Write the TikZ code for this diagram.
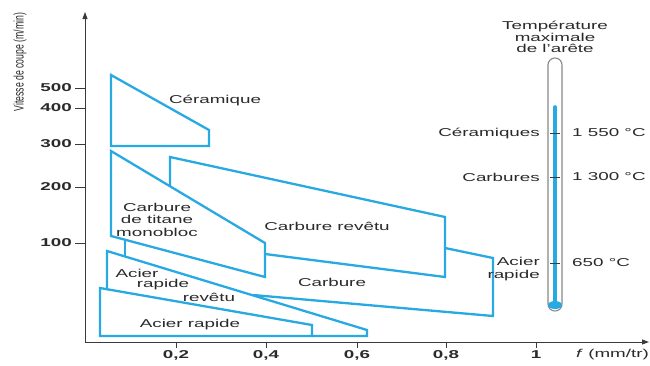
\documentclass[tikz,border=0pt]{standalone}
\usepackage{fontspec}
\setmainfont[FakeStretch=1.65]{Liberation Sans}
\newfontfamily\plainsans{Liberation Sans}
\usetikzlibrary{arrows.meta}
\definecolor{tblue}{HTML}{29A9E1}
\definecolor{txt}{HTML}{2A2A2A}
\definecolor{axisc}{HTML}{3A3A3A}
\definecolor{tubec}{HTML}{888888}
\tikzset{
  zone/.style={draw=tblue, line width=2.3pt, line join=miter},
  lbl/.style={inner sep=0pt, text=txt, font=\fontsize{11.4}{12.5}\selectfont},
  num/.style={inner sep=0pt, text=txt, font=\fontsize{11.4}{12.5}\selectfont\bfseries},
  axis/.style={draw=axisc, line width=1pt},
  tick/.style={draw=axisc, line width=0.9pt},
}
\begin{document}
\begin{tikzpicture}[x=1pt,y=-1pt]
\useasboundingbox (0,0) rectangle (650,365);
\fill[white] (0,0) rectangle (650,365);

% axes
\draw[axis, -{Triangle[length=7pt,width=5pt]}] (85,342) -- (85,12);
\draw[axis, -{Triangle[length=7pt,width=5pt]}] (85,342) -- (649,342);

% y ticks and labels
\foreach \v/\y in {500/88,400/108,300/144,200/187,100/243}{
  \draw[tick] (75,\y) -- (85,\y);
  \node[num, anchor=east] (y\v) at (72,\y) {\v};
}
% x ticks and labels
\foreach \x in {176,266,357,446,536}{
  \draw[tick] (\x,342) -- (\x,348);
}
\node[num] (x02) at (176,355) {0,2};
\node[num] (x04) at (266,355) {0,4};
\node[num] (x06) at (357,355) {0,6};
\node[num] (x08) at (446,355) {0,8};
\node[num] (x10) at (536,355) {1};
\node[lbl, anchor=west] (xlab) at (576,355) {\textit{f}\/ (mm/tr)};

\node[inner sep=0pt, text=txt, rotate=90] (ylab) at (20,62)
  {\scalebox{1}[1.6]{\plainsans\fontsize{8.7}{10}\selectfont Vitesse de coupe (m/min)}};

% zones
\draw[zone] (111,75) -- (209,130) -- (209,146) -- (111,146) -- cycle;
\draw[zone] (111,236) -- (111,151) -- (265,243) -- (265,277) -- cycle;
\draw[zone] (170,186) -- (170,157) -- (445,217) -- (445,277) -- (265,254);
\draw[zone] (125,240) -- (125,256);
\draw[zone] (253,295) -- (493,316) -- (493,258) -- (445,248);
\draw[zone] (107,290) -- (107,251) -- (367,330) -- (367,336) -- (312,336);
\draw[zone] (100,288) -- (312,325) -- (312,336) -- (100,336) -- cycle;

% zone labels
\node[lbl] (cer) at (215,100) {Céramique};
\node[lbl, align=center] (mono) at (157,219.5) {Carbure\\de titane\\monobloc};
\node[lbl] (carbrev) at (327,226) {Carbure revêtu};
\node[lbl] (carb) at (332,282) {Carbure};
\node[lbl] (arr1) at (137,273) {Acier};
\node[lbl] (arr2) at (163,285) {rapide};
\node[lbl] (arr3) at (209,297) {revêtu};
\node[lbl] (ar) at (190,325) {Acier rapide};

% thermometer
\node[lbl, align=center, font=\fontsize{11.4}{11.4}\selectfont] (ttitle) at (555,37) {Température\\maximale\\de l'arête};
\draw[tubec, line width=1.1pt, rounded corners=6.9pt] (548,311) rectangle (562,58);
\draw[tblue, line width=3.6pt, line cap=round] (555,107) -- (555,304);
\fill[tblue] (555,305) ellipse [x radius=7, y radius=4];
\foreach \y in {133,177,263}{
  \draw[tick] (550,\y) -- (560,\y);
}
\node[lbl, anchor=east] (tcer) at (540,133) {Céramiques};
\node[lbl, anchor=west] (vcer) at (572,133) {1 550 °C};
\node[lbl, anchor=east] (tcarb) at (540,177) {Carbures};
\node[lbl, anchor=west] (vcarb) at (572,177) {1 300 °C};
\node[lbl, anchor=east, align=right] (tar) at (540,269) {Acier\\rapide};
\node[lbl, anchor=west] (var) at (572,263) {650 °C};
\end{tikzpicture}
\end{document}
